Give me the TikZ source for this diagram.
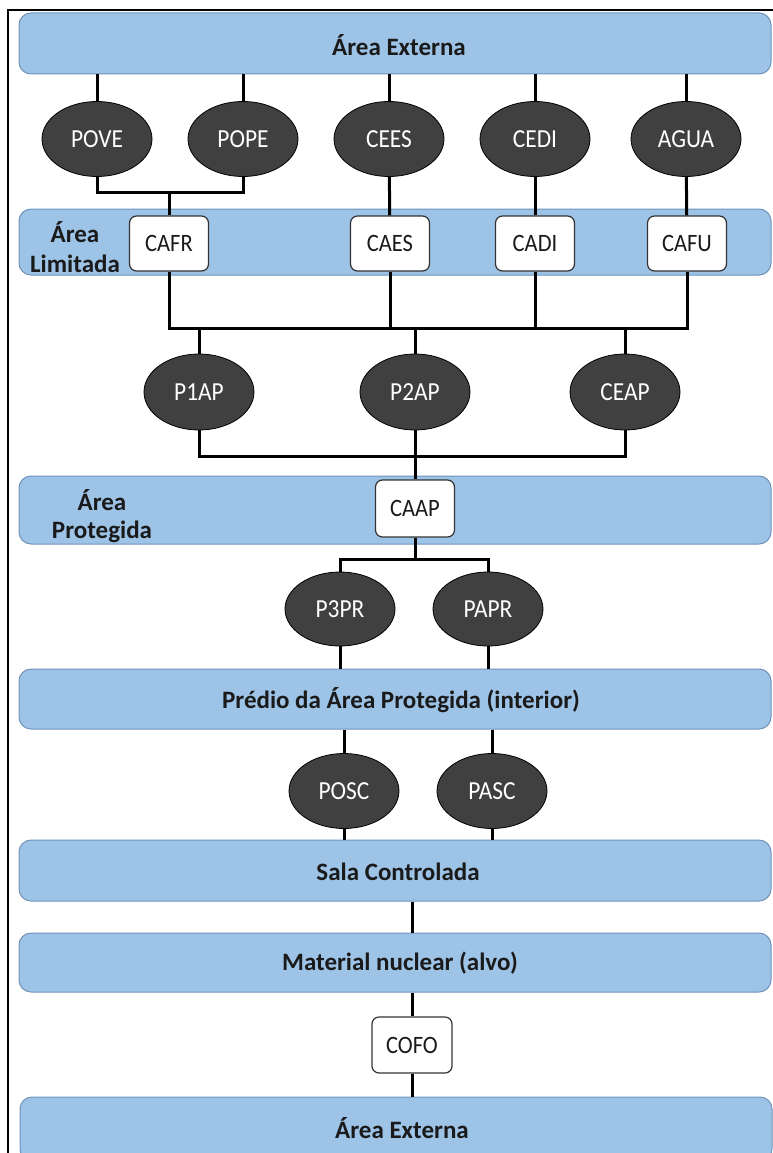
\documentclass[tikz,border=0pt]{standalone}
\usepackage{fontspec}
\setmainfont{Carlito}
\newfontfamily\ovalfont[FakeStretch=0.9]{Carlito}
\newfontfamily\bandfont[FakeStretch=0.95,FakeBold=0]{Carlito}
\usetikzlibrary{shapes.geometric}
\definecolor{bandblue}{HTML}{9DC3E6}
\definecolor{bandedge}{HTML}{6F93BA}
\definecolor{ovalfill}{HTML}{404040}
\definecolor{inktext}{HTML}{1A1A1A}
\begin{document}
\begin{tikzpicture}[x=1pt,y=-1pt,
  band/.style={draw=bandedge, line width=1pt, fill=bandblue, rounded corners=12pt,
    minimum width=752pt, inner sep=0pt},
  bandtext/.style={font=\fontsize{25}{28}\selectfont\bfseries, text=inktext, align=center, inner sep=0pt},
  oval/.style={ellipse, draw=black, line width=0.8pt, fill=ovalfill, minimum width=110pt,
    minimum height=75pt, inner sep=0pt, text=white, font=\ovalfont\fontsize{26}{28}\selectfont},
  gate/.style={draw=black!80, line width=1.2pt, fill=white, rounded corners=7pt,
    minimum width=79pt, minimum height=55pt, inner sep=0pt, text=inktext,
    font=\ovalfont\fontsize{25}{28}\selectfont},
  link/.style={line width=3pt, draw=black}]
\useasboundingbox (0,0) rectangle (772,1153);
% frame
\draw[line width=2pt] (8,1160) -- (8,10) -- (780,10);
% bands
\node[band, minimum height=61pt] (b1) at (395,43.5) {};
\node[band, minimum height=66pt] (b2) at (395,242) {};
\node[band, minimum height=68pt] (b3) at (395,510) {};
\node[band, minimum height=60pt] (b4) at (395,699) {};
\node[band, minimum height=61pt] (b5) at (395,870.5) {};
\node[band, minimum height=59pt] (b6) at (395,962.5) {};
\node[band, minimum height=64pt] (b7) at (396,1129) {};
% band labels
\node[bandtext] (t1) at (399,45) {Área Externa};
\node[bandtext, font=\fontsize{25}{30}\selectfont\bfseries] (t2) at (75,247) {Área\\Limitada};
\node[bandtext] (t3) at (102,516) {Área\\Protegida};
\node[bandtext] (t4) at (401,700) {Prédio da Área Protegida (interior)};
\node[bandtext] (t5) at (398,872) {Sala Controlada};
\node[bandtext] (t6) at (400,963) {Material nuclear (alvo)};
\node[bandtext] (t7) at (402,1128) {Área Externa};
% row 1 ovals
\node[oval] (pove) at (97,139) {POVE};
\node[oval] (pope) at (243,139) {POPE};
\node[oval] (cees) at (389,139) {CEES};
\node[oval] (cedi) at (535,139) {CEDI};
\node[oval] (agua) at (686,139) {AGUA};
% gates in limited area
\node[gate] (cafr) at (169,243.5) {CAFR};
\node[gate] (caes) at (390,243.5) {CAES};
\node[gate] (cadi) at (535,243.5) {CADI};
\node[gate] (cafu) at (687,243.5) {CAFU};
% row 2 ovals
\node[oval, minimum height=76pt] (p1ap) at (199,392) {P1AP};
\node[oval, minimum height=76pt] (p2ap) at (415,392) {P2AP};
\node[oval, minimum height=76pt] (ceap) at (625,392) {CEAP};
% protected area gate
\node[gate, minimum height=57pt] (caap) at (415,508.5) {CAAP};
% row 3 ovals
\node[oval, minimum height=74pt] (p3pr) at (340,609) {P3PR};
\node[oval, minimum height=74pt] (papr) at (488,609) {PAPR};
% row 4 ovals
\node[oval] (posc) at (344,791) {POSC};
\node[oval] (pasc) at (492,791) {PASC};
% final gate
\node[gate, minimum width=80pt, minimum height=56pt] (cofo) at (412,1045) {COFO};
% junction points
\coordinate (j1) at (169,192);
\coordinate (j2) at (415,328);
\coordinate (j3) at (415,456);
\coordinate (j4) at (415,559);
% connectors: external area to row 1
\draw[link] (b1.south -| pove) -- (pove);
\draw[link] (b1.south -| pope) -- (pope);
\draw[link] (b1.south -| cees) -- (cees);
\draw[link] (b1.south -| cedi) -- (cedi);
\draw[link] (b1.south -| agua) -- (agua);
% row 1 to gates
\draw[link] (pove) -- (pove |- j1) -- (pope |- j1) -- (pope);
\draw[link] (j1) -- (cafr);
\draw[link] (cees) -- (caes);
\draw[link] (cedi) -- (cadi);
\draw[link] (agua) -- (cafu);
% gates to row 2
\draw[link] (cafr) -- (cafr |- j2) -- (cafu |- j2) -- (cafu);
\draw[link] (caes) -- (caes |- j2);
\draw[link] (cadi) -- (cadi |- j2);
\draw[link] (p1ap) -- (p1ap |- j2);
\draw[link] (p2ap) -- (j2);
\draw[link] (ceap) -- (ceap |- j2);
% row 2 to CAAP
\draw[link] (p1ap) -- (p1ap |- j3) -- (ceap |- j3) -- (ceap);
\draw[link] (p2ap) -- (caap);
% CAAP to row 3
\draw[link] (caap) -- (j4);
\draw[link] (p3pr) -- (p3pr |- j4) -- (papr |- j4) -- (papr);
% row 3 to building
\draw[link] (p3pr) -- (p3pr |- b4.north);
\draw[link] (papr) -- (papr |- b4.north);
% building to row 4
\draw[link] (b4.south -| posc) -- (posc);
\draw[link] (b4.south -| pasc) -- (pasc);
% row 4 to controlled room
\draw[link] (posc) -- (posc |- b5.north);
\draw[link] (pasc) -- (pasc |- b5.north);
% controlled room to material
\draw[link] (b5.south -| cofo) -- (b6.north -| cofo);
% material to COFO to external area
\draw[link] (b6.south -| cofo) -- (cofo);
\draw[link] (cofo) -- (b7.north -| cofo);
\end{tikzpicture}
\end{document}
